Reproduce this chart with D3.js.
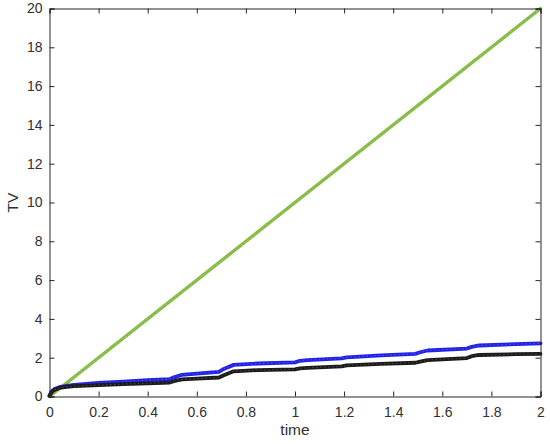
<!DOCTYPE html>
<html>
<head>
<meta charset="utf-8">
<script src="https://cdn.jsdelivr.net/npm/d3@7"></script>
<style>
  html, body { margin: 0; padding: 0; background: #fff; }
  svg { display: block; }
  text { font-family: "Liberation Sans", Arial, Helvetica, sans-serif; fill: #303030; }
</style>
</head>
<body>
<svg id="chart" width="550" height="444"></svg>
<script>
// ---- data ----
const xTicks = [0, 0.2, 0.4, 0.6, 0.8, 1, 1.2, 1.4, 1.6, 1.8, 2];
const yTicks = [0, 2, 4, 6, 8, 10, 12, 14, 16, 18, 20];

const greenTime = [0, 2];
const greenTV = [0, 20];

const stepTime = [0, 0.005, 0.01, 0.02, 0.04, 0.07, 0.1, 0.2, 0.3, 0.4, 0.49, 0.51, 0.54, 0.6, 0.69, 0.71, 0.75, 0.85, 1.0, 1.02, 1.05, 1.19, 1.21, 1.35, 1.49, 1.51, 1.54, 1.7, 1.72, 1.75, 1.9, 2.0];
const blueTV = [0.05, 0.18, 0.27, 0.38, 0.48, 0.55, 0.6, 0.7, 0.77, 0.84, 0.9, 1.0, 1.12, 1.18, 1.27, 1.42, 1.63, 1.7, 1.76, 1.84, 1.88, 1.97, 2.02, 2.12, 2.2, 2.28, 2.37, 2.47, 2.56, 2.63, 2.7, 2.74];
const blackTV = [0.03, 0.15, 0.24, 0.34, 0.44, 0.5, 0.53, 0.59, 0.64, 0.68, 0.72, 0.8, 0.88, 0.92, 0.98, 1.1, 1.3, 1.36, 1.4, 1.45, 1.48, 1.55, 1.6, 1.68, 1.74, 1.8, 1.88, 1.98, 2.08, 2.14, 2.18, 2.2];

// ---- layout ----
const svg = d3.select("#chart");
const L = 49.5, R = 540.5, T = 8.5, B = 396.5;
const x = d3.scaleLinear().domain([0, 2]).range([L, R]);
const y = d3.scaleLinear().domain([0, 20]).range([B, T]);
const axisColor = "#262626";

// lines
const line = d3.line().x(d => x(d[0])).y(d => y(d[1]));
const series = [
  { t: greenTime, v: greenTV, color: "#86bb45", w: 3.4 },
  { t: stepTime, v: blueTV, color: "#2222e6", w: 3.8 },
  { t: stepTime, v: blackTV, color: "#1a1a1a", w: 3.8 }
];
const plot = svg.append("g");
series.forEach(s => {
  const pts = s.t.map((t, i) => [t, s.v[i]]);
  plot.append("path")
    .attr("d", line(pts))
    .attr("fill", "none")
    .attr("stroke", s.color)
    .attr("stroke-width", s.w)
    .attr("stroke-linejoin", "round")
    .attr("stroke-linecap", "round");
  plot.append("path")
    .attr("d", line(pts))
    .attr("fill", "none")
    .attr("stroke", "#ffffff")
    .attr("stroke-opacity", 0.2)
    .attr("stroke-width", 1)
    .attr("stroke-dasharray", "1.5,2.5");
});

// axes (ticks inward, on all four sides)
const tickLen = 5;
const axBottom = d3.axisBottom(x).tickValues(xTicks).tickSize(-tickLen).tickPadding(10.5).tickFormat(d3.format("~g"));
const axTop = d3.axisTop(x).tickValues(xTicks).tickSize(-tickLen).tickFormat("");
const axLeft = d3.axisLeft(y).tickValues(yTicks).tickSize(-tickLen).tickPadding(7).tickFormat(d3.format("~g"));
const axRight = d3.axisRight(y).tickValues(yTicks).tickSize(-tickLen).tickFormat("");

function styleAxis(g) {
  g.selectAll("path.domain").attr("stroke", axisColor).attr("stroke-width", 1);
  g.selectAll(".tick line").attr("stroke", axisColor).attr("stroke-width", 1);
  g.selectAll(".tick text").style("font-size", "14px").attr("fill", "#303030")
    .style("font-family", '"Liberation Sans", Arial, sans-serif');
}
svg.append("g").attr("transform", `translate(0,${B})`).call(axBottom).call(styleAxis);
svg.append("g").attr("transform", `translate(0,${T})`).call(axTop).call(styleAxis);
svg.append("g").attr("transform", `translate(${L},0)`).call(axLeft).call(styleAxis);
svg.append("g").attr("transform", `translate(${R},0)`).call(axRight).call(styleAxis);

// labels
svg.append("text")
  .attr("x", (L + R) / 2).attr("y", 434.5)
  .attr("text-anchor", "middle")
  .style("font-size", "15.5px")
  .text("time");
svg.append("text")
  .attr("transform", `translate(18,${(T + B) / 2}) rotate(-90)`)
  .attr("text-anchor", "middle")
  .style("font-size", "15.5px")
  .text("TV");
</script>
</body>
</html>
